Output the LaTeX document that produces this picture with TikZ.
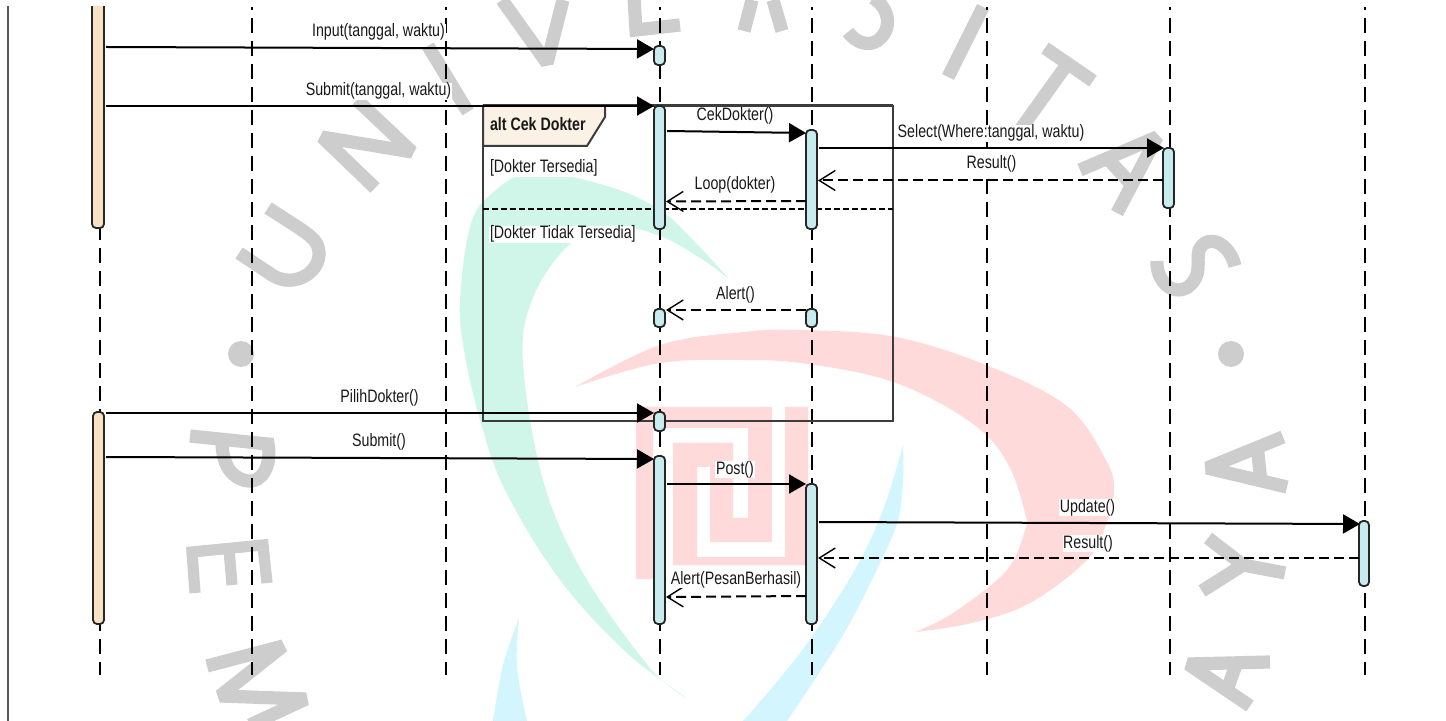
\documentclass[tikz,border=0pt]{standalone}
\usepackage{fontspec}
\setmainfont[FakeStretch=0.79]{Liberation Sans}
\usetikzlibrary{arrows.meta}
\definecolor{wmgray}{HTML}{CDCDCD}
\definecolor{wmteal}{HTML}{D0F6EA}
\definecolor{wmred}{HTML}{FFDADA}
\definecolor{wmblue}{HTML}{D3F5FE}
\definecolor{barblue}{HTML}{C8ECEE}
\definecolor{barcream}{HTML}{F7E2C4}
\definecolor{tabcream}{HTML}{FBF1E4}
\definecolor{framegray}{HTML}{3C3C3C}
\tikzset{
  wmletter/.style={draw=wmgray,line width=6.6pt,line join=miter,miter limit=1.5},
  lifeline/.style={draw=black,line width=0.65pt,dash pattern=on 7.5pt off 4pt,dash phase=6pt},
  actbar/.style={draw=black!85,line width=0.9pt,rounded corners=2pt,fill=barblue,inner sep=0pt,outer sep=0pt},
  actorbar/.style={actbar,fill=barcream},
  callmsg/.style={draw=black,line width=1pt,-{Triangle[length=8.5pt,width=9.5pt]}},
  retmsg/.style={draw=black,line width=1pt,dash pattern=on 5pt off 2.5pt,-{Straight Barb[length=8pt,width=10pt,line width=0.7pt]}},
  msglabel/.style={fill=white,inner xsep=0.3pt,inner ysep=0pt,yshift=-0.7pt,text=black!90,font=\fontsize{9pt}{10pt}\selectfont,text height=6.7pt,text depth=2.1pt},
  framebox/.style={draw=framegray,line width=1pt},
}
\newcommand{\actv}[6][actbar]{\node[#1,minimum width={(#4-#3)*0.5pt},minimum height={(#6-#5)*0.5pt}] (#2) at ({(#3+#4)/2},{(#5+#6)/2}) {};}
\begin{document}
\begin{tikzpicture}[x=0.5pt,y=-0.5pt]
\useasboundingbox (0,0) rectangle (1446,721);
\clip (0,0) rectangle (1446,721);
% --- watermark logo
\fill[wmteal] plot[smooth,tension=.6] coordinates {(729,279) (693,240) (660,210) (610,187) (533,172) (490,195) (470,227) (460,300) (464,350) (480,420) (505,490) (560,580) (627,653) (687,698)}
  -- plot[smooth,tension=.6] coordinates {(687,698) (650,668) (583,573) (543,480) (523,363) (532,300) (567,247) (610,226) (660,236) (700,258) (729,279)} -- cycle;
\fill[wmblue] plot[smooth,tension=.6] coordinates {(903,445) (903,480) (898,520) (880,563) (843,635) (787,721)}
  -- (743,721) -- plot[smooth,tension=.6] coordinates {(743,721) (800,653) (853,573) (883,510) (903,445)} -- cycle;
\fill[wmblue] plot[smooth,tension=.6] coordinates {(519,618) (503,665) (493,721)} -- (527,721) -- plot[smooth,tension=.6] coordinates {(527,721) (517,667) (519,618)} -- cycle;
\fill[wmred] plot[smooth,tension=.6] coordinates {(575,387) (660,345) (743,332) (800,330) (896,337) (991,367) (1068,407) (1106,460) (1114,490) (1106,525) (1087,560) (1030,603) (972,623) (915,632)}
  -- plot[smooth,tension=.6] coordinates {(915,632) (953,613) (1007,570) (1026,527) (1026,517) (1011,470) (984,433) (934,400) (877,377) (800,363) (743,360) (660,363) (575,387)} -- cycle;
\fill[wmred] (636,579) -- (636,407) -- (772,407) -- (772,542) -- (710,542) -- (710,467) -- (697,467) -- (697,557) -- (785,557) -- (785,407) -- (808,407) -- (808,565) -- (673,565) -- (673,443) -- (733,443) -- (733,518) -- (748,518) -- (748,428) -- (653,428) -- (653,579) -- cycle;
% --- watermark letters
\draw[wmletter] (239,253) -- (272,275) .. controls (295,290) and (325,270) .. (318,247) .. controls (315,237) and (305,232) .. (268,208);
\draw[wmletter] (375,188) -- (322,137) -- (412,152) -- (357,100);
\draw[wmletter] (428,46) -- (468,112);
\draw[wmletter] (502,0) -- (547,63) -- (563,0);
\draw[wmletter] (634,-2) -- (636,30) -- (680,25);
\draw[wmletter] (752,0) -- (744,31);
\draw[wmletter] (773,0) -- (782,31);
\draw[wmletter] (873,-2) .. controls (890,8) and (893,30) .. (877,41) .. controls (868,47) and (855,42) .. (848,32);
\draw[wmletter] (983,7) -- (948,77);
\draw[wmletter] (1045,48) -- (1093,81);
\draw[wmletter] (1068,63) -- (1020,130);
\draw[wmletter] (1080,170) -- (1157,137) -- (1117,213);
\draw[wmletter] (1107,158) -- (1130,183);
\draw[wmletter] (1235,266) .. controls (1230,244) and (1208,232) .. (1199,250) .. controls (1196,262) and (1203,275) .. (1188,287) .. controls (1172,297) and (1156,280) .. (1157,261);
\fill[wmgray] (1231,354) circle (13);
\draw[wmletter] (1283,437) -- (1207,468) -- (1287,487);
\draw[wmletter] (1257,445) -- (1261,482);
\draw[wmletter] (1208,538) -- (1243,565) -- (1202,591);
\draw[wmletter] (1243,565) -- (1285,573);
\draw[wmletter] (1270,662) -- (1188,664) -- (1250,706);
\draw[wmletter] (1237,662) -- (1227,690);
\fill[wmgray] (241,354) circle (13);
\draw[wmletter] (190,436) -- (268,444) .. controls (272,465) and (262,483) .. (248,481) .. controls (232,479) and (222,465) .. (222,441);
\draw[wmletter,line width=5.6pt] (195,593) -- (192,552) -- (263,545) -- (267,583);
\draw[wmletter,line width=5.6pt] (232,585) -- (229,549);
\draw[wmletter] (207,666) -- (283,646) -- (220,696) -- (306,699) -- (250,725);
% --- sequence diagram
\begin{scope}
\clip (0,7) rectangle (1446,721);
\draw[draw=framegray!85,line width=1pt] (8,0) -- (8,721);
\foreach \lx/\ln in {100/a,252/b,446/c,660/d,812/e,987/f,1170/g,1365/h}{
  \coordinate (top\ln) at (\lx,7);
  \coordinate (bot\ln) at (\lx,675);
  \draw[lifeline] (top\ln) -- (bot\ln);
}
% frame
\draw[framebox] (483,106) -- (893,106) -- (893,421) -- (483,421) -- cycle;
\draw[framebox] (483,105.5) -- (893,105.5);
\draw[framebox,line width=1.3pt] (483,421) -- (893,421);
\draw[framebox,fill=tabcream,line width=1pt] (483,106) -- (605,106) -- (605,117) -- (587,146) -- (483,146) -- cycle;
\draw[draw=black,line width=0.8pt,dash pattern=on 3pt off 1.5pt] (483,209) -- (893,209);
% activations
\actv[actorbar]{aa}{92}{104}{-10}{228}
\actv[actorbar]{ab}{93}{104}{412}{624}
\actv{da}{654}{665}{46}{65}
\actv{db}{654}{665}{106}{229}
\actv{dc}{654}{665}{309}{327}
\actv{dd}{654}{665}{412}{431}
\actv{de}{654}{665}{456}{624}
\actv{ea}{806}{817}{130}{229}
\actv{eb}{806}{817}{309}{327}
\actv{ec}{806}{817}{484}{624}
\actv{ga}{1163}{1174}{148}{208}
\actv{ha}{1359}{1369}{521}{586}
% message ends
\coordinate (m1s) at (106,47);    \coordinate (m1e) at (654,49);
\coordinate (m2s) at (106,106);   \coordinate (m2e) at (654,106);
\coordinate (m3s) at (667,131);   \coordinate (m3e) at (806,133);
\coordinate (m4s) at (819,148);   \coordinate (m4e) at (1164,148);
\coordinate (m5s) at (1163,180.5);\coordinate (m5e) at (818,180.5);
\coordinate (m6s) at (806,201);   \coordinate (m6e) at (666,201.5);
\coordinate (m7s) at (806,310);   \coordinate (m7e) at (666,310);
\coordinate (m8s) at (106,413);   \coordinate (m8e) at (654,413);
\coordinate (m9s) at (106,457);   \coordinate (m9e) at (654,459);
\coordinate (m10s) at (667,484);  \coordinate (m10e) at (806,484);
\coordinate (m11s) at (819,522);  \coordinate (m11e) at (1360,524);
\coordinate (m12s) at (1359,558); \coordinate (m12e) at (818,558);
\coordinate (m13s) at (806,596);  \coordinate (m13e) at (666,597);
\draw[callmsg] (m1s) -- (m1e);
\draw[callmsg] (m2s) -- (m2e);
\draw[callmsg] (m3s) -- (m3e);
\draw[callmsg] (m4s) -- (m4e);
\draw[retmsg] (m5s) -- (m5e);
\draw[retmsg] (m6s) -- (m6e);
\draw[retmsg] (m7s) -- (m7e);
\draw[callmsg] (m8s) -- (m8e);
\draw[callmsg] (m9s) -- (m9e);
\draw[callmsg] (m10s) -- (m10e);
\draw[callmsg] (m11s) -- (m11e);
\draw[retmsg] (m12s) -- (m12e);
\draw[retmsg] (m13s) -- (m13e);
% labels
\node[msglabel] (l1) at (378.5,31) {Input(tanggal, waktu)};
\node[msglabel] (l2) at (378.5,90) {Submit(tanggal, waktu)};
\node[msglabel] (l3) at (735,115) {CekDokter()};
\node[msglabel] (l4) at (991,132) {Select(Where:tanggal, waktu)};
\node[msglabel] (l5) at (991.5,163) {Result()};
\node[msglabel] (l6) at (735,184) {Loop(dokter)};
\node[msglabel] (l7) at (735.5,294) {Alert()};
\node[msglabel] (l8) at (379.5,397) {PilihDokter()};
\node[msglabel] (l9) at (379,441) {Submit()};
\node[msglabel] (l10) at (735,468) {Post()};
\node[msglabel] (l11) at (1087.5,506) {Update()};
\node[msglabel] (l12) at (1088,542) {Result()};
\node[msglabel] (l13) at (736,578) {Alert(PesanBerhasil)};
\node[msglabel,anchor=west] (g1) at (489,167) {[Dokter Tersedia]};
\node[msglabel,anchor=west] (g2) at (489,233) {[Dokter Tidak Tersedia]};
\node[msglabel,fill=none,anchor=west,font=\fontsize{9pt}{10pt}\selectfont\bfseries] (alt) at (489,125) {alt Cek Dokter};
\end{scope}
\end{tikzpicture}
\end{document}
